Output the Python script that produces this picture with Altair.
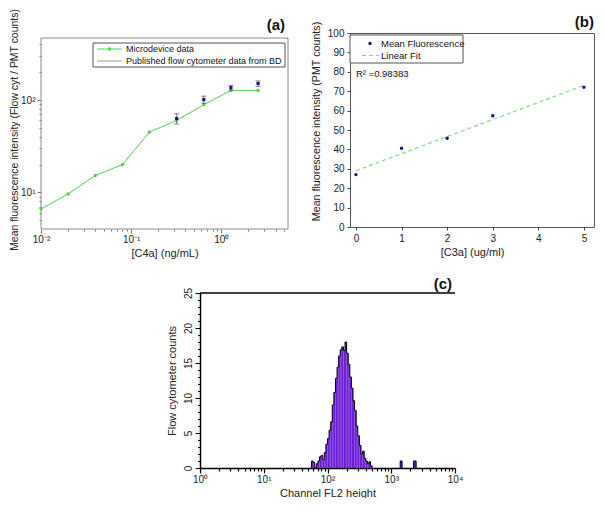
import altair as alt
import pandas as pd

FONT = "Liberation Sans"
GREEN = "#52d252"
GREEN_FIT = "#86d886"
NAVY = "#12128c"
GRAY_BD = "#7c7c98"
PURPLE = "#6b1ed6"

# ---------- panel (a) ----------
a_conc = [0.01, 0.02, 0.04, 0.08, 0.16, 0.32, 0.64, 1.28, 2.56]
a_micro = [6.6, 9.6, 15.2, 20.0, 45.0, 60.0, 89.0, 127.0, 127.0]
a_bd_conc = [0.32, 0.64, 1.28, 2.56]
a_bd_mean = [63.0, 101.0, 136.0, 151.0]
a_bd_low = [55.0, 92.0, 128.0, 140.0]
a_bd_high = [71.0, 110.0, 144.0, 161.0]
a_series = ["Microdevice data", "Published flow cytometer data from BD"]
a_x_ticks = [0.01, 0.02, 0.03, 0.04, 0.05, 0.06, 0.07, 0.08, 0.09,
             0.1, 0.2, 0.3, 0.4, 0.5, 0.6, 0.7, 0.8, 0.9, 1, 2, 3, 4, 5]
a_x_labels = {0.01: "10⁻²", 0.1: "10⁻¹", 1: "10⁰"}
a_y_ticks = [5, 6, 7, 8, 9, 10, 20, 30, 40, 50, 60, 70, 80, 90, 100, 200, 300, 400]
a_y_labels = {10: "10¹", 100: "10²"}

# ---------- panel (b) ----------
b_conc = [0, 1, 2, 3, 5]
b_mean = [27.0, 40.6, 45.8, 57.3, 72.0]
b_fit_conc = [0, 5]
b_fit_value = [29.0, 73.0]
b_series = ["Mean Fluorescence", "Linear Fit"]
b_r2 = "R² =0.98383"
b_x_ticks = [0, 1, 2, 3, 4, 5]
b_y_ticks = [0, 10, 20, 30, 40, 50, 60, 70, 80, 90, 100]

# ---------- panel (c) ----------
c_log_edges = [1.750, 1.775, 1.800, 1.825, 1.850, 1.875, 1.900, 1.925, 1.950, 1.975,
               2.000, 2.025, 2.050, 2.075, 2.100, 2.125, 2.150, 2.175, 2.200, 2.225,
               2.250, 2.275, 2.300, 2.325, 2.350, 2.375, 2.400, 2.425, 2.450, 2.475,
               2.500, 2.525, 2.550, 2.575, 2.600, 2.625, 2.650, 2.675, 2.700]
c_counts = [1.0, 0.8, 0.0, 0.6, 1.0, 1.6, 1.8, 1.2, 2.2, 3.4,
            4.2, 5.4, 6.6, 9.0, 10.8, 12.8, 14.4, 16.0, 16.9, 17.3,
            16.8, 18.0, 16.4, 14.8, 13.0, 11.4, 9.6, 8.2, 6.0, 4.6,
            3.2, 2.0, 2.4, 1.4, 1.0, 0.6, 0.9, 0.3]
c_extra_log_edges = [(3.14, 3.17), (3.35, 3.39)]
c_extra_counts = [1.0, 1.0]
c_decades = [1, 10, 100, 1000, 10000]
c_x_labels = {1: "10⁰", 10: "10¹", 100: "10²", 1000: "10³", 10000: "10⁴"}
c_x_ticks = [m * d for d in c_decades[:-1] for m in range(1, 10)] + [10000]
c_y_ticks = list(range(0, 26))

ONE = pd.DataFrame({"k": [0]})


def label_expr(mapping):
    expr = "''"
    for v, t in reversed(list(mapping.items())):
        expr = f"datum.value == {v} ? '{t}' : {expr}"
    return expr


def tick_size(majors, big, small):
    test = " || ".join(f"datum.value == {v}" for v in majors)
    return {"condition": {"test": test, "value": big}, "value": small}


def box(x0, x1, y0, y1, stroke, fill="white"):
    kw = {"stroke": stroke, "strokeWidth": 1}
    if fill:
        kw["fill"] = fill
    else:
        kw["fillOpacity"] = 0
    return alt.Chart(ONE).mark_rect(**kw).encode(
        x=alt.value(x0), x2=alt.value(x1), y=alt.value(y0), y2=alt.value(y1))


def seg(x0, x1, y, color, width=1.0, dash=None):
    kw = {"color": color, "strokeWidth": width}
    if dash:
        kw["strokeDash"] = dash
    return alt.Chart(ONE).mark_rule(**kw).encode(x=alt.value(x0), x2=alt.value(x1), y=alt.value(y))


def dot(x, y, color, size):
    return alt.Chart(ONE).mark_circle(color=color, size=size, opacity=1).encode(x=alt.value(x), y=alt.value(y))


def label(x, y, text, size, align="left", weight="normal"):
    return alt.Chart(ONE).mark_text(text=text, align=align, baseline="middle", fontSize=size,
                                    fontWeight=weight, color="#111").encode(x=alt.value(x), y=alt.value(y))


# ================= panel (a) =================
# the view is 5 px taller than the frame, so that the frame sits 5 px below panel (b)'s
A_W, A_H, A_TOP = 247, 196, 5
df_a = pd.DataFrame({"conc": a_conc, "value": a_micro})
df_a_bd = pd.DataFrame({"conc": a_bd_conc, "mean": a_bd_mean, "low": a_bd_low, "high": a_bd_high})

a_xscale = alt.Scale(type="log", domain=[0.01, 5.5], nice=False)
a_yscale = alt.Scale(type="log", domain=[4, 470], nice=False, range=[A_H, A_TOP])
a_xaxis = alt.Axis(title="[C4a] (ng/mL)", values=a_x_ticks, labelExpr=label_expr(a_x_labels),
                   tickSize=tick_size(list(a_x_labels), 4, 2), tickColor="#777",
                   labelFontSize=10, titleFontSize=11, labelColor="#222", titleColor="#222",
                   labelFlush=False, labelOverlap=False, grid=False, domain=False,
                   labelPadding=1, minExtent=16, maxExtent=16, titlePadding=2)
a_yaxis = alt.Axis(title="Mean fluorescence intensity (Flow cyt / PMT counts)",
                   values=a_y_ticks, labelExpr=label_expr(a_y_labels),
                   tickSize=tick_size(list(a_y_labels), 4, 2), tickColor="#777",
                   labelFontSize=10, titleFontSize=10.45, labelColor="#222", titleColor="#222",
                   labelOverlap=False, grid=False, domain=False, labelPadding=2,
                   minExtent=21, maxExtent=21, titlePadding=1, titleY=91.5 + A_TOP)


def ax(f):
    return alt.X(f"{f}:Q", scale=a_xscale, axis=a_xaxis)


def ay(f):
    return alt.Y(f"{f}:Q", scale=a_yscale, axis=a_yaxis)


a_frame = box(0, A_W, A_TOP, A_H, "#8a8a8a", fill=None)
a_line = alt.Chart(df_a).mark_line(strokeWidth=1, color=GREEN).encode(x=ax("conc"), y=ay("value"))
a_pts = alt.Chart(df_a).mark_circle(size=12, color=GREEN, opacity=1).encode(x=ax("conc"), y=ay("value"))
a_err = alt.Chart(df_a_bd).mark_rule(strokeWidth=1, color=GRAY_BD).encode(x=ax("conc"), y=ay("low"), y2="high:Q")
a_cap_hi = alt.Chart(df_a_bd).mark_tick(orient="horizontal", size=5, thickness=1, color="#555").encode(
    x=ax("conc"), y=ay("high"))
a_cap_lo = alt.Chart(df_a_bd).mark_tick(orient="horizontal", size=5, thickness=1, color="#555").encode(
    x=ax("conc"), y=ay("low"))
a_bd_pts = alt.Chart(df_a_bd).mark_square(size=10, color=NAVY, opacity=1).encode(x=ax("conc"), y=ay("mean"))

a_legend = [
    box(52, 244, A_TOP + 5, A_TOP + 29, "#555"),
    seg(56, 81, A_TOP + 11, GREEN), dot(68.5, A_TOP + 11, GREEN, 12), label(85, A_TOP + 11, a_series[0], 9),
    seg(56, 81, A_TOP + 23, GRAY_BD, 0.8), label(85, A_TOP + 23, a_series[1], 9),
]
a_tag = label(244, A_TOP - 13, "(a)", 15, align="right", weight="bold")

panel_a = alt.layer(a_frame, a_line, a_pts, a_err, a_cap_hi, a_cap_lo, a_bd_pts, *a_legend, a_tag).properties(
    width=A_W, height=A_H, view=alt.ViewBackground(stroke=None))

# ================= panel (b) =================
df_b = pd.DataFrame({"conc": b_conc, "value": b_mean})
df_b_fit = pd.DataFrame({"conc": b_fit_conc, "value": b_fit_value})
df_b_txt = pd.DataFrame({"conc": [0], "value": [79], "label": [b_r2]})

b_xscale = alt.Scale(domain=[-0.13, 5.22], nice=False, zero=False)
b_yscale = alt.Scale(domain=[0, 100], nice=False)
b_xaxis = alt.Axis(title="[C3a] (ug/ml)", values=b_x_ticks, format="d", tickSize=3, tickColor="#444",
                   labelFontSize=10, titleFontSize=11, labelColor="#222", titleColor="#222",
                   labelFlush=False, grid=False, domain=False, labelPadding=3,
                   minExtent=15, maxExtent=15, titlePadding=4)
b_yaxis = alt.Axis(title="Mean fluorescence intensity (PMT counts)", values=b_y_ticks, format="d",
                   tickSize=3, tickColor="#444", labelFontSize=10, titleFontSize=10.7,
                   labelColor="#222", titleColor="#222", grid=False, domain=False, labelPadding=3,
                   minExtent=22, maxExtent=22, titlePadding=7, titleY=88)


def bx():
    return alt.X("conc:Q", scale=b_xscale, axis=b_xaxis)


def by():
    return alt.Y("value:Q", scale=b_yscale, axis=b_yaxis)


b_pts = alt.Chart(df_b).mark_circle(size=12, color=NAVY, opacity=1).encode(x=bx(), y=by())
b_fit = alt.Chart(df_b_fit).mark_line(strokeWidth=1.2, color=GREEN_FIT, strokeDash=[4, 3]).encode(x=bx(), y=by())
b_txt = alt.Chart(df_b_txt).mark_text(align="left", baseline="middle", fontSize=9.5, color="#111").encode(
    x=bx(), y=by(), text="label:N")

b_legend = [
    box(0, 113, 2, 30, "#555"),
    dot(20, 10.5, NAVY, 12), label(31, 10.5, b_series[0], 9.5),
    seg(12, 29, 22.5, GREEN_FIT, 1.2, [4, 3]), label(31, 22.5, b_series[1], 9.5),
]
b_tag = label(244, -11, "(b)", 15, align="right", weight="bold")

panel_b = alt.layer(b_fit, b_pts, b_txt, *b_legend, b_tag).properties(
    width=244, height=194, view=alt.ViewBackground(stroke="#555", strokeWidth=1))

# ================= panel (c) =================
hist_rows = []
for i, cnt in enumerate(c_counts):
    hist_rows.append({"lo": 10 ** c_log_edges[i], "hi": 10 ** c_log_edges[i + 1], "count": cnt})
for (lo, hi), cnt in zip(c_extra_log_edges, c_extra_counts):
    hist_rows.append({"lo": 10 ** lo, "hi": 10 ** hi, "count": cnt})
df_hist = pd.DataFrame(hist_rows)

segments = [(c_log_edges, c_counts)] + [([lo, hi], [cnt]) for (lo, hi), cnt in
                                        zip(c_extra_log_edges, c_extra_counts)]
out_rows = []
k = 0
for g, (edges, counts) in enumerate(segments):
    pts = [(edges[0], 0.0)] + [(edges[i], counts[i]) for i in range(len(counts))] + \
          [(edges[-1], counts[-1]), (edges[-1], 0.0)]
    for e, c in pts:
        out_rows.append({"x": 10 ** e, "count": c, "seg": g, "idx": k})
        k += 1
df_outline = pd.DataFrame(out_rows)

c_xscale = alt.Scale(type="log", domain=[1, 10000], nice=False)
c_yscale = alt.Scale(domain=[0, 25], nice=False)
c_xaxis = alt.Axis(title="Channel FL2 height", values=c_x_ticks, labelExpr=label_expr(c_x_labels),
                   tickSize=tick_size(c_decades, 5, 3), tickColor="black", tickWidth=1.2,
                   domainColor="black", domainWidth=1.5, labelFontSize=10, titleFontSize=11,
                   labelColor="#222", titleColor="#222", labelFlush=False, labelOverlap=False,
                   grid=False, labelPadding=1, minExtent=16, maxExtent=16, titlePadding=3)
c_yaxis = alt.Axis(title="Flow cytometer counts", values=c_y_ticks,
                   labelExpr="datum.value % 5 == 0 ? datum.value : ''",
                   tickSize=tick_size([0, 5, 10, 15, 20, 25], 5, 2.5), tickColor="black",
                   domainColor="black", domainWidth=1.5, labelAngle=270, labelAlign="center",
                   labelBaseline="bottom", labelFontSize=10, titleFontSize=11, labelColor="#222",
                   titleColor="#222", labelOverlap=False, grid=False, labelPadding=2,
                   minExtent=16, maxExtent=16, titlePadding=7)

c_bars = alt.Chart(df_hist).mark_rect(color=PURPLE, opacity=1).encode(
    x=alt.X("lo:Q", scale=c_xscale, axis=c_xaxis), x2="hi:Q",
    y=alt.Y("count:Q", scale=c_yscale, axis=c_yaxis), y2=alt.datum(0))
c_line = alt.Chart(df_outline).mark_line(interpolate="step-after", color="black", strokeWidth=1).encode(
    x=alt.X("x:Q", scale=c_xscale, axis=c_xaxis),
    y=alt.Y("count:Q", scale=c_yscale, axis=c_yaxis),
    detail="seg:N", order="idx:Q")
c_top = alt.Chart(ONE).mark_rule(color="black", strokeWidth=1.5).encode(
    x=alt.value(0), x2=alt.value(255), y=alt.value(0))
c_tag = label(252, -9, "(c)", 15, align="right", weight="bold")

panel_c = alt.layer(c_bars, c_line, c_top, c_tag).properties(
    width=255, height=175, view=alt.ViewBackground(stroke=None))

SW = 125
spacer = alt.Chart(ONE).mark_rect(color="white").encode(
    x=alt.value(0), x2=alt.value(SW), y=alt.value(0), y2=alt.value(1)).properties(
    width=SW, height=1, view=alt.ViewBackground(stroke=None))

top = alt.hconcat(panel_a, panel_b, spacing=20)
bottom = alt.hconcat(spacer, panel_c, spacing=0)

chart = alt.vconcat(top, bottom, spacing=19).properties(
    padding={"left": 0, "top": 0, "right": 0, "bottom": 0}
).configure(font=FONT).configure_view(stroke=None).configure_axis(titleFontWeight="normal")

chart.save("out.html", embed_options={"renderer": "svg", "actions": False})
